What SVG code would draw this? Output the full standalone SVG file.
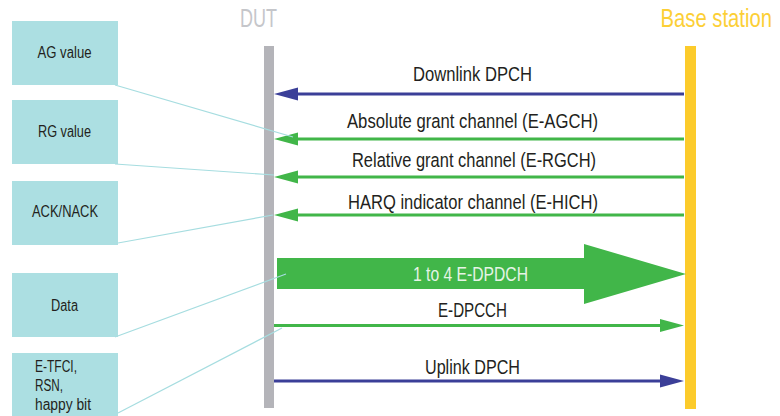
<svg xmlns="http://www.w3.org/2000/svg" width="780" height="416" viewBox="0 0 780 416">
<style>
.box{fill:#acdfe2}
.bt{font-family:"Liberation Sans",Arial,sans-serif;font-size:16px;fill:#231f20}
.lt{font-family:"Liberation Sans",Arial,sans-serif;font-size:20.5px;fill:#231f20;text-anchor:middle}
.hd{font-family:"Liberation Sans",Arial,sans-serif;font-size:25px}
.blue{stroke:#3b3f98;stroke-width:3;fill:none}
.green{stroke:#41b649;stroke-width:3;fill:none}
.ah-b{fill:#3b3f98}
.ah-g{fill:#41b649}
.conn{stroke:#a6dde0;stroke-width:1.2;fill:none}
</style>
<rect width="780" height="416" fill="#ffffff"/>

<g id="dut">
<text class="hd" x="258.5" y="27" text-anchor="middle" fill="#c5c6ca" textLength="37" lengthAdjust="spacingAndGlyphs">DUT</text>
<rect x="264" y="46" width="10" height="362" fill="#b4b4b9"/>
</g>
<g id="base-station">
<text class="hd" transform="translate(772,27) scale(0.81,1)" x="0" y="0" text-anchor="end" fill="#fccf36">Base station</text>
<rect x="685" y="46" width="11" height="363" fill="#fccb2b"/>
</g>

<g id="ag-value">
<rect class="box" x="12" y="21" width="106" height="64"/>
<text class="bt" x="64.5" y="58" text-anchor="middle" textLength="54" lengthAdjust="spacingAndGlyphs">AG value</text>
</g>
<g id="rg-value">
<rect class="box" x="12" y="100" width="106" height="64"/>
<text class="bt" x="64.5" y="137" text-anchor="middle" textLength="53" lengthAdjust="spacingAndGlyphs">RG value</text>
</g>
<g id="ack-nack">
<rect class="box" x="12" y="181" width="106" height="64"/>
<text class="bt" x="65" y="217" text-anchor="middle" textLength="66" lengthAdjust="spacingAndGlyphs">ACK/NACK</text>
</g>
<g id="data">
<rect class="box" x="12" y="273" width="106" height="64"/>
<text class="bt" x="64.5" y="311" text-anchor="middle" textLength="27" lengthAdjust="spacingAndGlyphs">Data</text>
</g>
<g id="etfci">
<rect class="box" x="12" y="353" width="106" height="63"/>
<text class="bt" x="35" y="372" textLength="42" lengthAdjust="spacingAndGlyphs">E-TFCI,</text>
<text class="bt" x="35" y="391" textLength="28" lengthAdjust="spacingAndGlyphs">RSN,</text>
<text class="bt" x="35" y="410" textLength="56" lengthAdjust="spacingAndGlyphs">happy bit</text>
</g>

<g id="connectors">
<!-- Downlink DPCH -->
<line class="blue" x1="297" y1="94" x2="684" y2="94"/>
<polygon class="ah-b" points="274,94 298,87.5 298,100.5"/>
<text class="lt" x="472.5" y="81" textLength="119" lengthAdjust="spacingAndGlyphs">Downlink DPCH</text>
<!-- E-AGCH -->
<line class="green" x1="297" y1="139" x2="684" y2="139"/>
<polygon class="ah-g" points="274,139 298,132.5 298,145.5"/>
<text class="lt" x="472.5" y="128" textLength="251" lengthAdjust="spacingAndGlyphs">Absolute grant channel (E-AGCH)</text>
<!-- E-RGCH -->
<line class="green" x1="297" y1="177" x2="684" y2="177"/>
<polygon class="ah-g" points="274,177 298,170.5 298,183.5"/>
<text class="lt" x="474" y="167" textLength="244" lengthAdjust="spacingAndGlyphs">Relative grant channel (E-RGCH)</text>
<!-- E-HICH -->
<line class="green" x1="297" y1="215" x2="684" y2="215"/>
<polygon class="ah-g" points="274,215 298,208.5 298,221.5"/>
<text class="lt" x="473" y="209" textLength="250" lengthAdjust="spacingAndGlyphs">HARQ indicator channel (E-HICH)</text>
<!-- E-DPDCH big arrow -->
<polygon class="ah-g" points="277,258 584,258 584,244 686,274 584,304 584,289 277,289"/>
<text class="lt" x="470.5" y="281" style="fill:#e6f4e6" textLength="115" lengthAdjust="spacingAndGlyphs">1 to 4 E-DPDCH</text>
<!-- E-DPCCH -->
<line class="green" x1="274" y1="325.5" x2="662" y2="325.5"/>
<polygon class="ah-g" points="684,325.5 660,319 660,332"/>
<text class="lt" x="472.5" y="317" textLength="69" lengthAdjust="spacingAndGlyphs">E-DPCCH</text>
<!-- Uplink DPCH -->
<line class="blue" x1="274" y1="381" x2="662" y2="381"/>
<polygon class="ah-b" points="684,381 660,374.5 660,387.5"/>
<text class="lt" x="472.5" y="374" textLength="95" lengthAdjust="spacingAndGlyphs">Uplink DPCH</text>
<!-- annotation lines -->
<line class="conn" x1="115" y1="85" x2="293" y2="137"/>
<line class="conn" x1="115" y1="164" x2="274" y2="175"/>
<line class="conn" x1="118" y1="243" x2="273" y2="215"/>
<line class="conn" x1="115" y1="337" x2="286" y2="274"/>
<line class="conn" x1="118" y1="413" x2="282" y2="328"/>
</g>
</svg>
